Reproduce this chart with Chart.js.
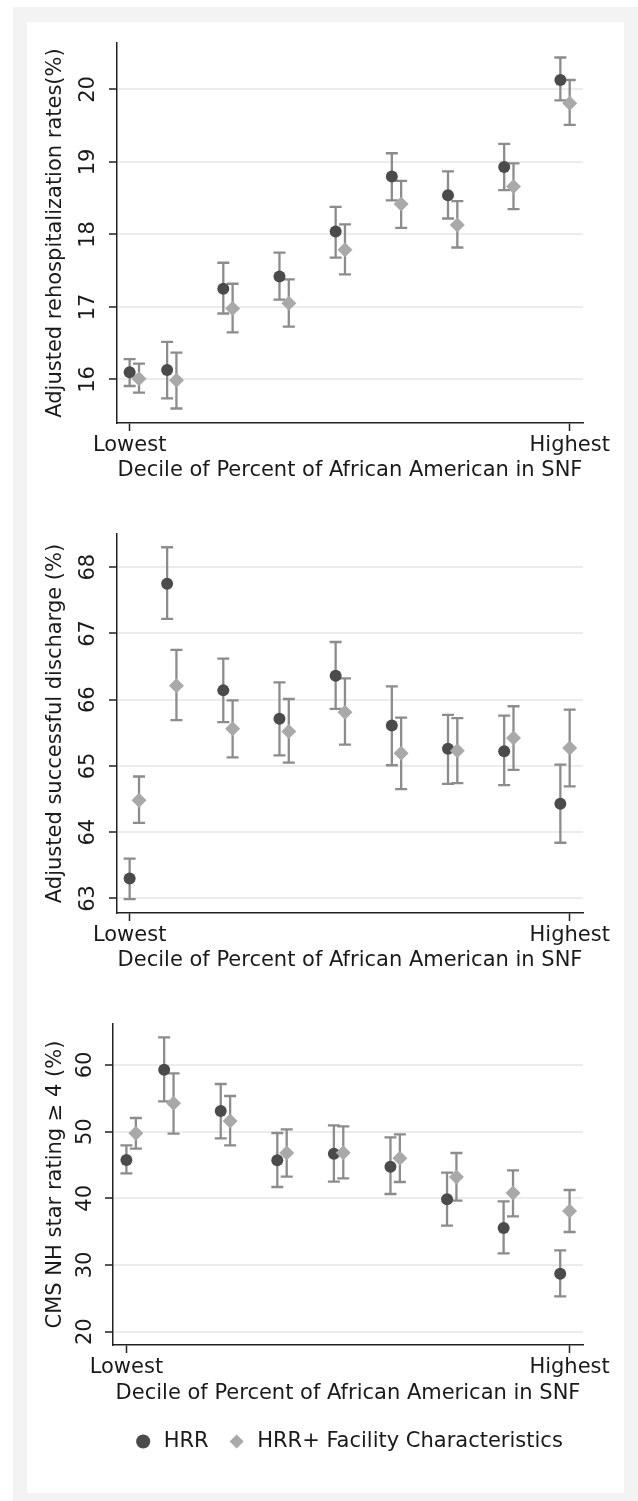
<!DOCTYPE html>
<html>
<head>
<meta charset="utf-8">
<script src="https://cdn.jsdelivr.net/npm/chart.js@4.4.1/dist/chart.umd.min.js"></script>
<style>
  body { margin: 0; background: #fff; width: 638px; height: 1501px; position: relative; overflow: hidden; }
  #frame { position: absolute; left: 13px; top: 7px; width: 625px; height: 1494px; background: #f3f3f3; }
  #inner { position: absolute; left: 27px; top: 22px; width: 597px; height: 1471px; background: #fff; }
  canvas { position: absolute; left: 27px; }
</style>
</head>
<body>
<div id="frame"></div>
<div id="inner"></div>
<canvas id="chartRehosp" width="597" height="470" style="top:22px"></canvas>
<canvas id="chartDischarge" width="597" height="490" style="top:492px"></canvas>
<canvas id="chartStar" width="597" height="510" style="top:982px"></canvas>

<script>
// x positions of the two series (decile groups, the second one is dodged a bit right)
const X_HRR = [0, 0.667, 1.667, 2.667, 3.667, 4.667, 5.667, 6.667, 7.667];
const X_FAC = [0.167, 0.833, 1.833, 2.833, 3.833, 4.833, 5.833, 6.833, 7.833];
const X_TICKS = [0, 7.833];
const X_TICK_LABELS = ["Lowest", "Highest"];
const X_TITLE = "Decile of Percent of African American in SNF";
const SERIES_LABELS = ["HRR", "HRR+ Facility Characteristics"];

// panel 1 : rehospitalization
const rehosp_hrr    = [16.10, 16.13, 17.25, 17.42, 18.04, 18.80, 18.54, 18.93, 20.13];
const rehosp_hrr_lo = [15.91, 15.74, 16.91, 17.10, 17.68, 18.47, 18.22, 18.61, 19.85];
const rehosp_hrr_hi = [16.28, 16.52, 17.61, 17.75, 18.38, 19.12, 18.87, 19.25, 20.44];
const rehosp_fac    = [16.01, 15.99, 16.98, 17.05, 17.79, 18.42, 18.13, 18.66, 19.81];
const rehosp_fac_lo = [15.82, 15.60, 16.65, 16.73, 17.45, 18.09, 17.82, 18.35, 19.51];
const rehosp_fac_hi = [16.22, 16.37, 17.32, 17.38, 18.14, 18.74, 18.46, 18.98, 20.13];
const rehosp_ticks  = [16, 17, 18, 19, 20];

// panel 2 : successful discharge
const dis_hrr    = [63.30, 67.75, 66.14, 65.71, 66.36, 65.61, 65.26, 65.22, 64.43];
const dis_hrr_lo = [62.99, 67.22, 65.66, 65.16, 65.86, 65.01, 64.73, 64.71, 63.84];
const dis_hrr_hi = [63.60, 68.30, 66.62, 66.26, 66.87, 66.20, 65.77, 65.76, 65.02];
const dis_fac    = [64.48, 66.21, 65.56, 65.52, 65.81, 65.19, 65.23, 65.42, 65.27];
const dis_fac_lo = [64.14, 65.69, 65.13, 65.05, 65.32, 64.65, 64.74, 64.94, 64.69];
const dis_fac_hi = [64.84, 66.75, 65.99, 66.01, 66.32, 65.73, 65.72, 65.90, 65.85];
const dis_ticks  = [63, 64, 65, 66, 67, 68];

// panel 3 : star rating >= 4
const star_hrr    = [45.75, 59.30, 53.10, 45.70, 46.70, 44.75, 39.85, 35.55, 28.70];
const star_hrr_lo = [43.75, 54.55, 49.00, 41.70, 42.50, 40.65, 35.90, 31.75, 25.30];
const star_hrr_hi = [47.95, 64.15, 57.15, 49.80, 50.95, 49.15, 43.85, 39.55, 32.20];
const star_fac    = [49.75, 54.25, 51.60, 46.80, 46.85, 46.00, 43.20, 40.80, 38.10];
const star_fac_lo = [47.45, 49.70, 47.95, 43.25, 43.00, 42.45, 39.65, 37.30, 34.95];
const star_fac_hi = [52.05, 58.75, 55.35, 50.35, 50.80, 49.60, 46.80, 44.20, 41.25];
const star_ticks  = [20, 30, 40, 50, 60];

const TEXT_COLOR = "#1a1a1a";
const AXIS_COLOR = "#222222";
const GRID_COLOR = "#ececec";
const BAR_COLOR = "#8c8c8c";
const HRR_COLOR = "#4b4b4b";
const FAC_COLOR = "#a9a9a9";

Chart.defaults.font.family = "'DejaVu Sans', sans-serif";
Chart.defaults.font.size = 21;
Chart.defaults.color = TEXT_COLOR;

function toPoints(xs, ys) {
  return xs.map((x, i) => ({x: x, y: ys[i]}));
}

// whiskers with caps, drawn under the markers
const errorBarPlugin = {
  id: 'errorBars',
  beforeDatasetsDraw(chart) {
    const ctx = chart.ctx;
    const xs = chart.scales.x;
    const ys = chart.scales.y;
    ctx.save();
    ctx.strokeStyle = BAR_COLOR;
    ctx.lineWidth = 2.3;
    chart.data.datasets.forEach(ds => {
      ds.data.forEach((pt, i) => {
        let x = xs.getPixelForValue(pt.x);
        let yLo = ys.getPixelForValue(ds.ciLow[i]);
        let yHi = ys.getPixelForValue(ds.ciHigh[i]);
        ctx.beginPath();
        ctx.moveTo(x, yLo); ctx.lineTo(x, yHi);
        ctx.moveTo(x - 6, yLo); ctx.lineTo(x + 6, yLo);
        ctx.moveTo(x - 6, yHi); ctx.lineTo(x + 6, yHi);
        ctx.stroke();
      });
    });
    ctx.restore();
  }
};

function makeChart(canvasId, p) {
  return new Chart(document.getElementById(canvasId).getContext('2d'), {
    type: 'scatter',
    data: {
      datasets: [
        {
          label: SERIES_LABELS[0],
          data: toPoints(X_HRR, p.hrr),
          ciLow: p.hrrLo, ciHigh: p.hrrHi,
          pointStyle: 'circle',
          pointRadius: 6,
          backgroundColor: HRR_COLOR,
          pointBackgroundColor: HRR_COLOR,
          borderWidth: 0, pointBorderWidth: 0,
          order: 2
        },
        {
          label: SERIES_LABELS[1],
          data: toPoints(X_FAC, p.fac),
          ciLow: p.facLo, ciHigh: p.facHi,
          pointStyle: 'rectRot',
          pointRadius: 7.5,
          backgroundColor: FAC_COLOR,
          pointBackgroundColor: FAC_COLOR,
          borderWidth: 0, pointBorderWidth: 0,
          order: 1   // diamonds on top of the circles
        }
      ]
    },
    options: {
      responsive: false,
      animation: false,
      devicePixelRatio: 1,
      layout: { padding: p.padding },
      plugins: {
        tooltip: { enabled: false },
        legend: {
          display: p.legend,
          position: 'bottom',
          fullSize: false,
          labels: {
            usePointStyle: true, boxWidth: 20, boxHeight: 10, padding: 18,
            color: TEXT_COLOR, font: {size: 21},
            sort: (a, b) => a.datasetIndex - b.datasetIndex
          }
        }
      },
      scales: {
        x: {
          type: 'linear',
          min: p.xMin, max: 8.07,
          afterBuildTicks: s => { s.ticks = X_TICKS.map(v => ({value: v})); },
          afterFit: s => { s.height = p.xAxisHeight; },
          ticks: { autoSkip: false, maxRotation: 0, padding: 2, callback: (v, i) => X_TICK_LABELS[i] },
          grid: { drawOnChartArea: false, tickColor: AXIS_COLOR, tickLength: 8, tickWidth: 1.5 },
          border: { color: AXIS_COLOR, width: 1.5 },
          title: { display: true, text: X_TITLE, padding: {top: 0, bottom: p.xTitlePad} }
        },
        y: {
          type: 'linear',
          min: p.yMin, max: p.yMax,
          afterBuildTicks: s => { s.ticks = p.yTicks.map(v => ({value: v})); },
          afterFit: s => { s.width = p.yAxisWidth; },
          ticks: { minRotation: 90, maxRotation: 90, crossAlign: 'center', padding: p.yTickPad },
          grid: { color: GRID_COLOR, lineWidth: 2, tickColor: AXIS_COLOR, tickLength: 8, tickWidth: 1.5 },
          border: { color: AXIS_COLOR, width: 1.5 },
          title: { display: true, text: p.yTitle, padding: {top: 16, bottom: 0} }
        }
      }
    },
    plugins: [errorBarPlugin]
  });
}

makeChart("chartRehosp", {
  hrr: rehosp_hrr, hrrLo: rehosp_hrr_lo, hrrHi: rehosp_hrr_hi,
  fac: rehosp_fac, facLo: rehosp_fac_lo, facHi: rehosp_fac_hi,
  yTicks: rehosp_ticks, yMin: 15.40, yMax: 20.64,
  yTitle: "Adjusted rehospitalization rates(%)",
  xMin: -0.225, yAxisWidth: 90, yTickPad: 7, xAxisHeight: 69, xTitlePad: 9,
  padding: {top: 21, right: 41, left: 0, bottom: 0}, legend: false
});

makeChart("chartDischarge", {
  hrr: dis_hrr, hrrLo: dis_hrr_lo, hrrHi: dis_hrr_hi,
  fac: dis_fac, facLo: dis_fac_lo, facHi: dis_fac_hi,
  yTicks: dis_ticks, yMin: 62.78, yMax: 68.50,
  yTitle: "Adjusted successful discharge (%)",
  xMin: -0.225, yAxisWidth: 90, yTickPad: 7, xAxisHeight: 69, xTitlePad: 9,
  padding: {top: 42, right: 41, left: 0, bottom: 0}, legend: false
});

makeChart("chartStar", {
  hrr: star_hrr, hrrLo: star_hrr_lo, hrrHi: star_hrr_hi,
  fac: star_fac, facLo: star_fac_lo, facHi: star_fac_hi,
  yTicks: star_ticks, yMin: 18.0, yMax: 66.15,
  yTitle: "CMS NH star rating \u2265 4 (%)",
  xMin: -0.237, yAxisWidth: 86, yTickPad: 6, xAxisHeight: 68, xTitlePad: 7,
  padding: {top: 42, right: 41, left: 0, bottom: 30}, legend: true
});
</script>
</body>
</html>
